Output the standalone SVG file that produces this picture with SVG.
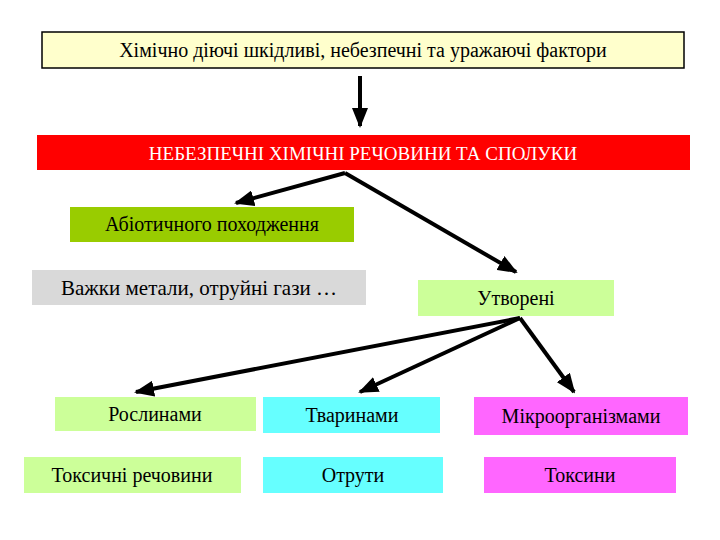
<svg xmlns="http://www.w3.org/2000/svg" width="720" height="540" viewBox="0 0 720 540">
<style>
text{font-family:"Liberation Serif","DejaVu Serif",serif;font-size:20px;text-anchor:middle;fill:#000}
.l{stroke:#000;stroke-width:4;fill:none;marker-end:url(#a)}
</style>
<defs><marker id="a" markerWidth="5" markerHeight="4" refX="4.5" refY="2" orient="auto" markerUnits="strokeWidth"><path d="M0,0L5,2L0,4z" fill="#000"/></marker></defs>
<rect width="720" height="540" fill="#fff"/>
<g id="connectors">
<line class="l" x1="360" y1="76" x2="360" y2="126"/>
<line class="l" x1="345" y1="173" x2="236" y2="203"/>
<line class="l" x1="345" y1="173" x2="516" y2="272"/>
<line class="l" x1="520" y1="318" x2="136" y2="392"/>
<line class="l" x1="520" y1="318" x2="360" y2="392"/>
<line class="l" x1="520" y1="318" x2="574" y2="392"/>
</g>
<g id="top"><rect x="42" y="32" width="642" height="36" fill="#FFFFCC" stroke="#000" stroke-width="1.5"/><text x="363" y="57">Хімічно діючі шкідливі, небезпечні та уражаючі фактори</text></g>
<g id="red"><rect x="37" y="135" width="653" height="35" fill="#FF0000"/><text x="363" y="160" style="fill:#fff;font-size:19px">НЕБЕЗПЕЧНІ ХІМІЧНІ РЕЧОВИНИ ТА СПОЛУКИ</text></g>
<g id="abio"><rect x="70" y="207" width="284" height="35" fill="#99CC00"/><text x="212" y="231">Абіотичного походження</text></g>
<g id="heavy"><rect x="32" y="270" width="334" height="35" fill="#D9D9D9"/><text x="199" y="295" style="font-size:21px">Важки метали, отруйні гази …</text></g>
<g id="made"><rect x="418" y="280" width="196" height="36" fill="#CCFF99"/><text x="516" y="305">Утворені</text></g>
<g id="plants"><rect x="55" y="397" width="201" height="34" fill="#CCFF99"/><text x="155" y="421">Рослинами</text></g>
<g id="animals"><rect x="263" y="397" width="177" height="36" fill="#66FFFF"/><text x="352" y="422">Тваринами</text></g>
<g id="micro"><rect x="474" y="397" width="214" height="38" fill="#FF66FF"/><text x="581" y="423">Мікроорганізмами</text></g>
<g id="toxsub"><rect x="24" y="457" width="217" height="36" fill="#CCFF99"/><text x="132" y="482">Токсичні речовини</text></g>
<g id="poisons"><rect x="263" y="457" width="180" height="36" fill="#66FFFF"/><text x="353" y="482">Отрути</text></g>
<g id="toxins"><rect x="484" y="457" width="192" height="36" fill="#FF66FF"/><text x="580" y="482">Токсини</text></g>
</svg>
